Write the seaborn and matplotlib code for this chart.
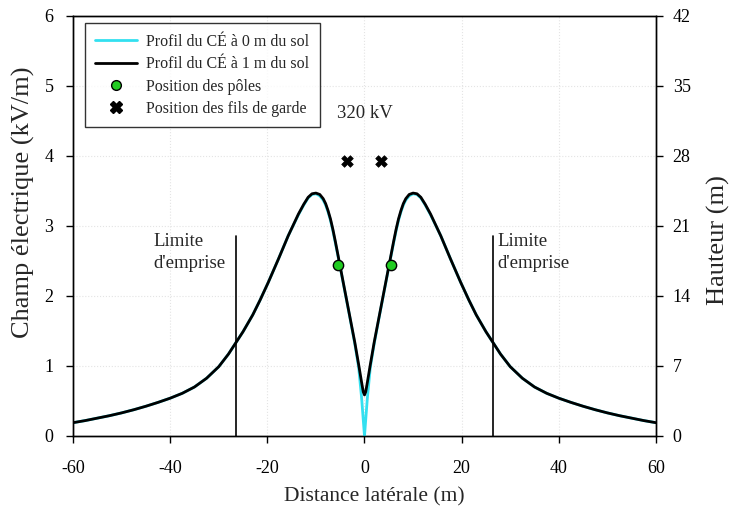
import numpy as np
import pandas as pd
import matplotlib
matplotlib.use("Agg")
import matplotlib.pyplot as plt
from matplotlib.lines import Line2D
import seaborn as sns

# lateral distance (m) and field values (kV/m)
distance = [-60, -57.5, -55, -52.5, -50, -47.5, -45, -42.5, -40, -37.5, -35,
            -32.5, -30, -28, -26.5, -25, -23, -21.5, -19.8, -17.7, -15.7,
            -13.6, -12.5, -11.6, -10.8, -10, -9.2, -8.5, -8, -7.5, -7, -6.5,
            -6, -5, -4, -3, -2, -1.2, -0.6, -0.25, 0,
            0.25, 0.6, 1.2, 2, 3, 4, 5, 6, 6.5, 7, 7.5, 8, 8.5, 9.2, 10, 10.8,
            11.6, 12.5, 13.6, 15.7, 17.7, 19.8, 21.5, 23, 25, 26.5, 28, 30,
            32.5, 35, 37.5, 40, 42.5, 45, 47.5, 50, 52.5, 55, 57.5, 60]
champ_1m = [0.19, 0.22, 0.255, 0.29, 0.33, 0.375, 0.425, 0.48, 0.54, 0.61,
            0.70, 0.825, 0.99, 1.17, 1.33, 1.49, 1.73, 1.94, 2.195, 2.53, 2.86,
            3.17, 3.31, 3.41, 3.46, 3.47, 3.45, 3.39, 3.32, 3.22, 3.10, 2.95,
            2.78, 2.42, 2.06, 1.70, 1.34, 1.02, 0.77, 0.63, 0.586,
            0.63, 0.77, 1.02, 1.34, 1.70, 2.06, 2.42, 2.78, 2.95, 3.10, 3.22,
            3.32, 3.39, 3.45, 3.47, 3.46, 3.41, 3.31, 3.17, 2.86, 2.53, 2.195,
            1.94, 1.73, 1.49, 1.33, 1.17, 0.99, 0.825, 0.70, 0.61, 0.54, 0.48,
            0.425, 0.375, 0.33, 0.29, 0.255, 0.22, 0.19]
champ_0m = [0.19, 0.22, 0.255, 0.29, 0.33, 0.375, 0.425, 0.48, 0.54, 0.61,
            0.70, 0.825, 0.99, 1.17, 1.33, 1.49, 1.73, 1.94, 2.195, 2.53, 2.86,
            3.16, 3.30, 3.40, 3.45, 3.46, 3.43, 3.37, 3.30, 3.20, 3.08, 2.93,
            2.76, 2.41, 2.05, 1.69, 1.32, 0.98, 0.55, 0.23, 0.0,
            0.23, 0.55, 0.98, 1.32, 1.69, 2.05, 2.41, 2.76, 2.93, 3.08, 3.20,
            3.30, 3.37, 3.43, 3.46, 3.45, 3.40, 3.30, 3.16, 2.86, 2.53, 2.195,
            1.94, 1.73, 1.49, 1.33, 1.17, 0.99, 0.825, 0.70, 0.61, 0.54, 0.48,
            0.425, 0.375, 0.33, 0.29, 0.255, 0.22, 0.19]

# conductor geometry (m)
poles_x = [-5.5, 5.5]
poles_h = [17.1, 17.1]
garde_x = [-3.5, 3.5]
garde_h = [27.5, 27.5]
emprise_x = [-26.5, 26.5]
emprise_h = 20

df = pd.DataFrame({"x": distance, "c0": champ_0m, "c1": champ_1m})

sns.set_style("white")
plt.rcParams["font.family"] = ["Liberation Serif", "DejaVu Serif"]
plt.rcParams["axes.unicode_minus"] = False

fig = plt.figure(figsize=(7.35, 5.15), dpi=100)
ax = fig.add_axes([0.0993, 0.1534, 0.7932, 0.8156])
ax2 = ax.twinx()

for a in (ax, ax2):
    for s in a.spines.values():
        s.set_color("black")
        s.set_linewidth(1.0)

# faint grid
for gx in [-40, -20, 0, 20, 40]:
    ax.axvline(gx, color="#e4e4e4", lw=0.8, ls=":", zorder=0)
for gy in [1, 2, 3, 4, 5]:
    ax.axhline(gy, color="#e4e4e4", lw=0.8, ls=":", zorder=0)

sns.lineplot(data=df, x="x", y="c0", ax=ax, color="#33e0f0", lw=2.0,
             sort=False, zorder=3)
sns.lineplot(data=df, x="x", y="c1", ax=ax, color="black", lw=2.0,
             sort=False, zorder=4)

ax.set_xlim(-60, 60)
ax.set_ylim(0, 6)
ax.set_xticks([-60, -40, -20, 0, 20, 40, 60])
ax.set_yticks([0, 1, 2, 3, 4, 5, 6])
ax.set_xlabel("Distance latérale (m)", fontsize=15.5)
ax.set_ylabel("Champ électrique (kV/m)", fontsize=19)
ax.xaxis.set_label_coords(0.516, -0.122)
ax.yaxis.set_label_coords(-0.066, 0.557)

ax2.set_ylim(0, 42)
ax2.set_yticks([0, 7, 14, 21, 28, 35, 42])
ax2.set_ylabel("Hauteur (m)", fontsize=19)
ax2.yaxis.set_label_coords(1.087, 0.467)

for a in (ax, ax2):
    a.tick_params(direction="out", length=5, width=1, labelsize=13,
                  colors="black", pad=7)
ax.tick_params(axis="x", bottom=True, pad=12)
ax.tick_params(axis="y", left=True, pad=9)
ax2.tick_params(axis="y", right=True)

# right-of-way limits
for ex in emprise_x:
    ax2.plot([ex, ex], [0, emprise_h], color="black", lw=1.2, zorder=2)
ax.text(-43.5, 2.90, "Limite\nd'emprise", fontsize=13.5, ha="left", va="top",
        linespacing=1.4)
ax.text(27.3, 2.90, "Limite\nd'emprise", fontsize=13.5, ha="left", va="top",
        linespacing=1.4)
ax.text(0, 4.6, "320 kV", fontsize=13.5, ha="center", va="center")

sns.scatterplot(x=poles_x, y=poles_h, ax=ax2, color="#22cc22", s=55,
                edgecolor="black", linewidth=1.0, zorder=5)
sns.scatterplot(x=garde_x, y=garde_h, ax=ax2, color="black", marker="X",
                s=70, edgecolor="black", linewidth=0.5, zorder=5)

handles = [
    Line2D([], [], color="#33e0f0", lw=2),
    Line2D([], [], color="black", lw=2),
    Line2D([], [], ls="none", marker="o", markerfacecolor="#22cc22",
           markeredgecolor="black", markersize=7),
    Line2D([], [], ls="none", marker="X", color="black", markersize=8),
]
labels = ["Profil du CÉ à 0 m du sol", "Profil du CÉ à 1 m du sol",
          "Position des pôles", "Position des fils de garde"]
leg = ax2.legend(handles, labels, loc="upper left", fontsize=11.5,
                 frameon=True, fancybox=False, edgecolor="black",
                 borderpad=0.65, handlelength=2.6, handletextpad=0.6,
                 labelspacing=0.4, bbox_to_anchor=(0.015, 0.99),
                 borderaxespad=0.2)
leg.get_frame().set_linewidth(1.0)

fig.savefig("out.png", dpi=100)
